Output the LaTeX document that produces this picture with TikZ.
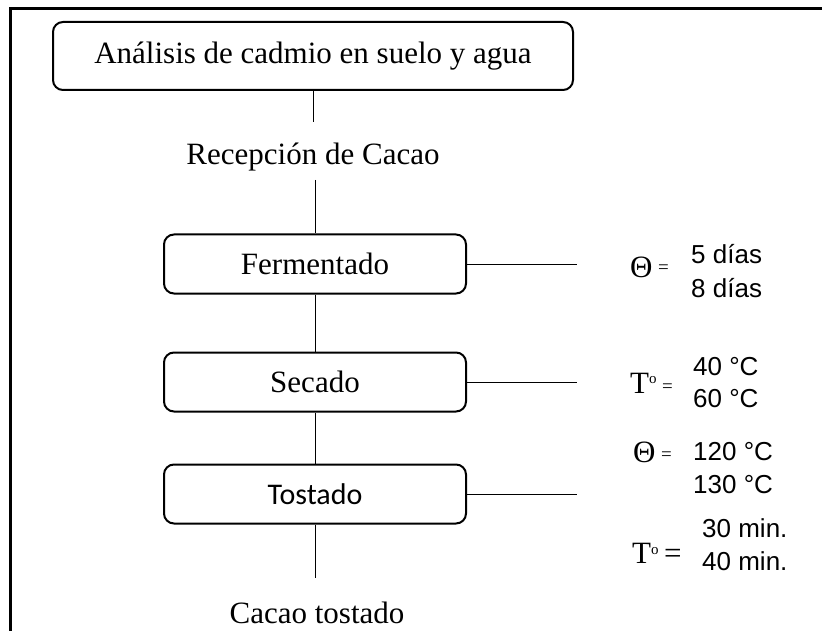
\documentclass[tikz,border=0pt]{standalone}
\usepackage{fontspec}
\setmainfont{Liberation Serif}
\newfontfamily\arialf{Liberation Sans}
\newfontfamily\calibf{Carlito}
\begin{document}
\begin{tikzpicture}[x=1pt,y=-1pt,
  box/.style={draw, line width=2pt, rounded corners=10pt, minimum width=302pt, minimum height=59pt, inner sep=0pt, font=\fontsize{31}{37}\selectfont},
  conn/.style={line width=1pt},
  ser/.style={inner sep=0pt, font=\fontsize{31}{37}\selectfont},
  sans/.style={inner sep=0pt, anchor=base west, font=\arialf\fontsize{26}{30}\selectfont},
  greek/.style={inner sep=0pt, anchor=base west, font=\fontsize{31}{37}\selectfont},
  smalleq/.style={inner sep=0pt, anchor=base west, font=\fontsize{19}{19}\selectfont}]
\useasboundingbox (0,0) rectangle (822,631);
\clip (0,0) rectangle (822,631);
\draw[line width=2.7pt] (10.5,8.5) rectangle (900,700);

% main column
\node[box, minimum width=520pt, minimum height=68pt] (title) at (313,56) {Análisis de cadmio en suelo y agua};
\coordinate (c1) at (313,122);
\draw[conn] (title.south) -- (c1);
\node[ser, anchor=base] (recep) at (313,165) {Recepción de Cacao};
\coordinate (c2) at (315,180);
\node[box] (ferm) at (315,264) {Fermentado};
\draw[conn] (c2) -- (ferm.north);
\node[box] (sec) at (315,382) {Secado};
\node[box, font=\calibf\fontsize{30}{36}\selectfont] (tost) at (315,494) {Tostado};
\draw[conn] (ferm) -- (sec);
\draw[conn] (sec) -- (tost);
\coordinate (c3) at (315,578);
\draw[conn] (tost.south) -- (c3);
\node[ser, anchor=base] (cacao) at (317,623) {Cacao tostado};

% side connectors
\coordinate (r1) at (577,264);
\coordinate (r2) at (577,382);
\coordinate (r3) at (577,494);
\draw[conn] (ferm.east) -- (r1);
\draw[conn] (sec.east) -- (r2);
\draw[conn] (tost.east) -- (r3);

% Fermentado labels
\node[greek] (th1) at (630,277) {Θ};
\node[smalleq] (eq1) at (658,273) {=};
\node[sans] (d5) at (691,264) {5 días};
\node[sans] (d8) at (691,297) {8 días};

% Secado labels
\node[greek] (t2) at (630,393) {T\raisebox{10pt}{\fontsize{15}{15}\selectfont o}};
\node[smalleq] (eq2) at (662,392) {=};
\node[sans] (c40) at (693,375) {40 °C};
\node[sans] (c60) at (693,407) {60 °C};

% Tostado labels
\node[greek] (th3) at (633,462) {Θ};
\node[smalleq] (eq3) at (661,460) {=};
\node[sans] (c120) at (693,460) {120 °C};
\node[sans] (c130) at (693,493) {130 °C};
\node[sans] (m30) at (702,537) {30 min.};
\node[greek] (t4) at (632,563) {T\raisebox{9pt}{\fontsize{15}{15}\selectfont o}};
\node[greek] (eq4) at (664,563) {=};
\node[sans] (m40) at (702,570) {40 min.};
\end{tikzpicture}
\end{document}
